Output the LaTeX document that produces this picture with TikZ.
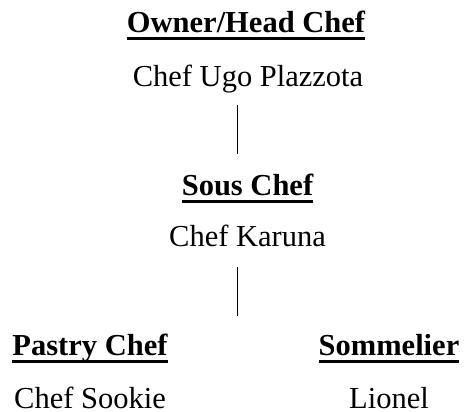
\documentclass[tikz,border=0pt]{standalone}
\usepackage{fontspec}
\setmainfont{Liberation Serif}
\usetikzlibrary{calc}
\tikzset{
    every node/.style={inner sep=0pt, anchor=base},
    rolehead/.style={font=\fontsize{30.5}{36}\selectfont\bfseries},
    rolename/.style={font=\fontsize{30.5}{36}\selectfont},
    headrule/.style={line width=3pt},
    link/.style={line width=1pt},
}
\begin{document}
\begin{tikzpicture}[x=1pt, y=-1pt]
        \useasboundingbox (0, 0) rectangle (464, 412);
        % top of the brigade
        \node[rolehead] (ownerhead) at (246, 33) {Owner/Head Chef};
        \node[rolename] (ownername) at (248, 87) {Chef Ugo Plazzota};
        \node[rolehead] (soushead) at (247.5, 195) {Sous Chef};
        \node[rolename] (sousname) at (247.5, 247) {Chef Karuna};
        \coordinate (split) at (237, 316);
        % bottom row
        \node[rolehead] (pastryhead) at (90, 355) {Pastry Chef};
        \node[rolename] (pastryname) at (90, 408) {Chef Sookie};
        \node[rolehead] (sommhead) at (389, 355) {Sommelier};
        \node[rolename] (sommname) at (389, 408) {Lionel};
        \foreach \n in {ownerhead, soushead, pastryhead, sommhead}
            \draw[headrule] ([yshift=-6pt]\n.base west)
                -- ([yshift=-6pt]\n.base east);
        \draw[link] ([shift={(-11pt, -18pt)}]ownername.base)
            -- ([shift={(-10.5pt, 41pt)}]soushead.base);
        \draw[link] ([shift={(-10.5pt, -20pt)}]sousname.base) -- (split);
    \end{tikzpicture}
\end{document}
